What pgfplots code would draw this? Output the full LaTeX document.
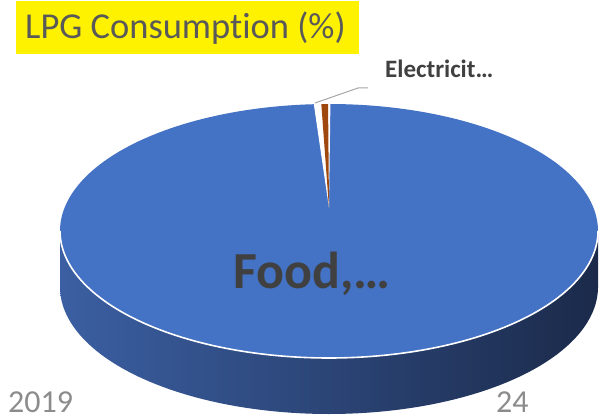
\documentclass[border=0pt]{standalone}
\usepackage{pgfplots}
\pgfplotsset{compat=1.18}
\usepackage{pgfplotstable}
\usepackage{fontspec}
\setmainfont{Carlito}[Ligatures=NoCommon]
\definecolor{topblue}{HTML}{4472C4}
\definecolor{sideL}{HTML}{3B5FA2}
\definecolor{sideR}{HTML}{1B2A4A}
\definecolor{elec}{HTML}{9E480E}
\definecolor{lbl}{HTML}{404040}
\definecolor{ttl}{HTML}{595959}
\definecolor{yr}{HTML}{8C8C8C}
\definecolor{lead}{HTML}{A6A6A6}

\pgfplotstableread{
category value
Food 99.1
Electricity 0.4
}\lpg
\pgfplotstablegetelem{0}{value}\of\lpg \let\food\pgfplotsretval
\pgfplotstablegetelem{1}{value}\of\lpg \let\elec\pgfplotsretval

% geometry of the 3-D pie (picture units = pixels of the reference)
\def\cx{329}\def\cy{186}\def\rx{269}\def\ry{127}\def\dep{56}\def\ay{209}
\pgfmathsetmacro\foodA{3.6*\food}
\pgfmathsetmacro\elecA{3.6*\elec}
% gap wedge (from end of Food to top)
\pgfmathsetmacro\gxa{\cx+\rx*sin(\foodA)}
\pgfmathsetmacro\gya{\cy+\ry*cos(\foodA)}
\pgfmathsetmacro\gxb{\cx+\rx*sin(360.3)}
\pgfmathsetmacro\gyb{\cy+\ry*cos(360.3)}
% electricity wedge
\pgfmathsetmacro\ethA{360-0.2-\elecA}
\pgfmathsetmacro\exa{\cx+\rx*sin(\ethA)}
\pgfmathsetmacro\eya{\cy+\ry*cos(\ethA)}
\pgfmathsetmacro\exb{\cx+\rx*sin(359.8)}
\pgfmathsetmacro\eyb{\cy+\ry*cos(359.8)}

\begin{document}
\begin{tikzpicture}
\begin{axis}[
  hide axis, scale only axis, width=600bp, height=417bp,
  xmin=0, xmax=600, ymin=0, ymax=417, clip=false]
\path (axis cs:0,0) rectangle (axis cs:600,417);
% side of the cylinder
\addplot[draw=none, left color=sideL, right color=sideR, domain=0:360, samples=181]
  ({\cx+\rx*sin(x)},{\cy-\dep+\ry*cos(x)});
\addplot[draw=none, left color=sideL, right color=sideR]
  coordinates {(60,130) (598,130) (598,186) (60,186)};
% top face: Food
\addplot[draw=none, fill=topblue, domain=0:360, samples=241]
  ({\cx+\rx*sin(x)},{\cy+\ry*cos(x)});
% front edge highlight
\addplot[white, line width=1.6bp, domain=90:270, samples=121]
  ({\cx+\rx*sin(x)},{\cy+\ry*cos(x)});
% gap and electricity slice
\edef\tmp{\noexpand\addplot[draw=none, fill=white] coordinates {(\cx,\ay) (\gxa,\gya) (\gxb,\gyb)};}\tmp
\edef\tmp{\noexpand\addplot[draw=none, fill=elec] coordinates {(\cx,\ay) (\exa,\eya) (\exb,\eyb)};}\tmp
% title
\fill[yellow] (axis cs:16,416) rectangle (axis cs:359,363);
\node[anchor=base west, inner sep=0, text=ttl, font=\fontsize{36.5bp}{42bp}\selectfont]
  at (axis cs:25,378) {LPG Consumption (\%)};
% labels
\draw[lead, line width=1bp] (axis cs:315,314) -- (axis cs:358,329) -- (axis cs:368,329);
\node[anchor=base west, inner sep=0, text=lbl, font=\fontsize{25bp}{30bp}\selectfont\bfseries]
  at (axis cs:385,339) {Electricit…};
\node[anchor=base west, inner sep=0, text=lbl, font=\fontsize{52bp}{58bp}\selectfont\bfseries]
  at (axis cs:233,129) {Food,…};
\node[anchor=base west, inner sep=0, text=yr, font=\fontsize{32bp}{38bp}\selectfont]
  at (axis cs:8,5) {2019};
\node[anchor=base west, inner sep=0, text=yr, font=\fontsize{32bp}{38bp}\selectfont]
  at (axis cs:496,5) {24};
\end{axis}
\end{tikzpicture}
\end{document}
